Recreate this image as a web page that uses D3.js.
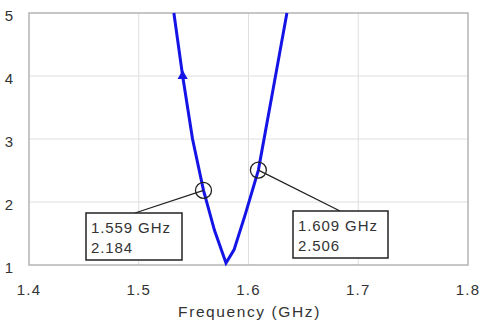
<!DOCTYPE html>
<html>
<head>
<script src="https://cdn.jsdelivr.net/npm/d3@7"></script>
<style>
  body { margin: 0; background: #fff; font-family: Arial, "Liberation Sans", sans-serif; }
  .grid line { stroke: #dedede; stroke-width: 1px; }
</style>
</head>
<body>
<svg width="481" height="327"></svg>
<script>
// VSWR curve
const freq = [1.532, 1.540, 1.549, 1.559, 1.569, 1.5795, 1.5868, 1.597, 1.609, 1.622, 1.635];
const vswr = [5.0, 4.0, 3.0, 2.184, 1.55, 1.03, 1.24, 1.8, 2.506, 3.75, 5.0];
const xTicks = [1.4, 1.5, 1.6, 1.7, 1.8];
const yTicks = [1, 2, 3, 4, 5];
const markers = [
  { f: 1.559, v: 2.184, label: ["1.559 GHz", "2.184"] },
  { f: 1.609, v: 2.506, label: ["1.609 GHz", "2.506"] }
];

const svg = d3.select("svg");
const pLeft = 29, pRight = 468, pTop = 13, pBottom = 265;

const x = d3.scaleLinear().domain([1.4, 1.8]).range([pLeft, pRight]);
const y = d3.scaleLinear().domain([1, 5]).range([pBottom, pTop]);

// grid
const g = svg.append("g").attr("class", "grid");
g.selectAll(".vx").data(xTicks.slice(1, -1)).enter().append("line")
  .attr("x1", d => x(d)).attr("x2", d => x(d)).attr("y1", pTop).attr("y2", pBottom);
g.selectAll(".hy").data(yTicks.slice(1, -1)).enter().append("line")
  .attr("y1", d => y(d)).attr("y2", d => y(d)).attr("x1", pLeft).attr("x2", pRight);

// frame
svg.append("rect").attr("x", pLeft).attr("y", pTop)
  .attr("width", pRight - pLeft).attr("height", pBottom - pTop)
  .attr("fill", "none").attr("stroke", "#b4b4b4").attr("stroke-width", 1.5);

// tick labels
svg.append("g").selectAll("text").data(yTicks).enter().append("text")
  .attr("x", 9).attr("y", d => y(d) + 8)
  .attr("text-anchor", "middle").attr("fill", "#333").attr("font-size", 15)
  .text(d => d);
svg.append("g").selectAll("text").data(xTicks).enter().append("text")
  .attr("x", d => x(d)).attr("y", 295)
  .attr("text-anchor", "middle").attr("fill", "#333").attr("font-size", 15)
  .attr("letter-spacing", 1.2)
  .text(d => d.toFixed(1));
svg.append("text").attr("x", x(1.6) + 1).attr("y", 317)
  .attr("text-anchor", "middle").attr("fill", "#333").attr("font-size", 15.5)
  .attr("letter-spacing", 1.6)
  .text("Frequency (GHz)");

// curve
const pts = freq.map((f, i) => [f, vswr[i]]);
svg.append("path").datum(pts)
  .attr("fill", "none").attr("stroke", "#1414e6").attr("stroke-width", 3)
  .attr("d", d3.line().x(d => x(d[0])).y(d => y(d[1])));

// arrow marker on the curve
svg.append("path")
  .attr("d", d3.symbol().type(d3.symbolTriangle).size(45)())
  .attr("transform", `translate(${x(freq[1])},${y(vswr[1])})`)
  .attr("fill", "#1414e6");

// data markers with callouts
const boxes = [
  { x0: 86, y0: 213, w: 96, h: 47, ax: 135 },
  { x0: 293, y0: 211, w: 95, h: 47, ax: 340 }
];
markers.forEach((m, i) => {
  const b = boxes[i];
  const cx = x(m.f), cy = y(m.v);
  svg.append("line").attr("x1", b.ax).attr("y1", b.y0).attr("x2", cx).attr("y2", cy)
    .attr("stroke", "#222").attr("stroke-width", 1.3);
  svg.append("circle").attr("cx", cx).attr("cy", cy).attr("r", 8)
    .attr("fill", "none").attr("stroke", "#222").attr("stroke-width", 1.3);
  svg.append("rect").attr("x", b.x0).attr("y", b.y0).attr("width", b.w).attr("height", b.h)
    .attr("fill", "#fff").attr("stroke", "#222").attr("stroke-width", 1.5);
  m.label.forEach((t, j) => {
    svg.append("text").attr("x", b.x0 + 5).attr("y", b.y0 + 20 + j * 19.5)
      .attr("fill", "#333").attr("font-size", 15).attr("letter-spacing", 0.9).text(t);
  });
});
</script>
</body>
</html>
